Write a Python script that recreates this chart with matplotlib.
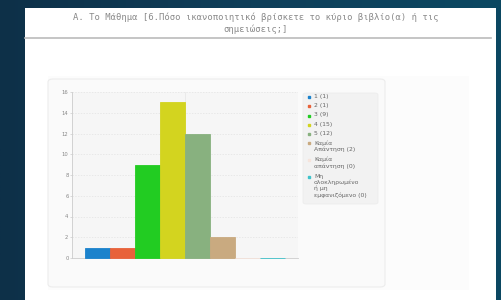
import numpy as np
import matplotlib
matplotlib.use("Agg")
import matplotlib.pyplot as plt
from matplotlib.patches import Rectangle, FancyBboxPatch
from matplotlib.lines import Line2D

title = ("A. Το Μάθημα [6.Πόσο ικανοποιητικό βρίσκετε το κύριο βιβλίο(α) ή τις\n"
         "σημειώσεις;]")
labels = ["1 (1)", "2 (1)", "3 (9)", "4 (15)", "5 (12)",
          "Καμία\nΑπάντηση (2)", "Καμία\nαπάντηση (0)",
          "Μη\nολοκληρωμένο\nή μη\nεμφανιζόμενο (0)"]
values = [1, 1, 9, 15, 12, 2, 0, 0]
colors = ["#1b82cc", "#e8623a", "#22cc22", "#d3d41f", "#88b17f",
          "#c9aa80", "#f6e4dc", "#3fc3cb"]
yticks = [0, 2, 4, 6, 8, 10, 12, 14, 16]

W, H = 502, 300
fig = plt.figure(figsize=(W / 100, H / 100), dpi=100)

# dark gradient background
bg = fig.add_axes([0, 0, 1, 1], zorder=-10)
grad = np.linspace(0, 1, 256)[None, :]
bg.imshow(grad, cmap=matplotlib.colors.LinearSegmentedColormap.from_list(
    "bg", ["#0d3048", "#0f3f5a", "#0b4862"]), aspect="auto", extent=[0, 1, 0, 1])
bg.set_axis_off()


def fx(x):
    return x / W


def fy(y):
    return 1 - y / H


# white panel
fig.patches.append(Rectangle((fx(25), fy(300)), fx(471), 292 / H,
                             transform=fig.transFigure, fc="white", ec="none", zorder=-5))
# title + rule
fig.text(fx(256), fy(23), title, ha="center", va="center", family="DejaVu Sans Mono",
         fontsize=6.4, color="#8a8a8a", linespacing=1.35)
fig.add_artist(Line2D([fx(25), fx(491)], [fy(38), fy(38)], transform=fig.transFigure,
                      color="#bbbbbb", lw=1.2))
# light area and chart card
fig.patches.append(Rectangle((fx(48), fy(290)), fx(421), 214 / H,
                             transform=fig.transFigure, fc="#fcfcfc", ec="none", zorder=-4))
fig.patches.append(FancyBboxPatch((fx(48), fy(287)), fx(337), 208 / H,
                                  boxstyle="round,pad=0,rounding_size=0.01",
                                  transform=fig.transFigure, fc="#fafafa", ec="#ececec",
                                  lw=0.8, zorder=-3))

ax = fig.add_axes([fx(72), fy(258), fx(226), 166 / H])
ax.set_facecolor("#f6f6f6")
x = np.arange(len(values))
bars = ax.bar(x, values, width=1.0, color=colors, edgecolor=colors, lw=0.6, zorder=3)
for b in bars:
    b.set_clip_on(False)
ax.set_xlim(-1.02, 8.02)
ax.set_ylim(0, 16)
ax.set_yticks(yticks)
ax.set_yticklabels([str(v) for v in yticks], fontsize=3.8, color="#888888")
ax.set_xticks([])
ax.grid(axis="y", color="#e2e2e2", ls=(0, (2, 2)), lw=0.5, zorder=0)
ax.axvline(3.5, color="#e6e6e6", lw=0.5, zorder=0)
ax.tick_params(axis="y", length=1.5, width=0.5, color="#cccccc", pad=1)
for s in ["top", "right"]:
    ax.spines[s].set_visible(False)
for s in ["left", "bottom"]:
    ax.spines[s].set_color("#cccccc")
    ax.spines[s].set_linewidth(0.6)

# legend box, markers aligned with first text line
fig.patches.append(FancyBboxPatch((fx(303), fy(204)), fx(75), 111 / H,
                                  boxstyle="round,pad=0,rounding_size=0.006",
                                  transform=fig.transFigure, fc="#f2f2f2", ec="#ebebeb",
                                  lw=0.5, zorder=1))
line_h = 7.6
y = 94
for lab, c in zip(labels, colors):
    fig.add_artist(Line2D([fx(309)], [fy(y + 3.2)], transform=fig.transFigure,
                          marker="s", ls="none", color=c, markersize=2.0, zorder=2))
    fig.text(fx(314), fy(y), lab, ha="left", va="top", fontsize=4.4, color="#666666",
             linespacing=1.2, zorder=2)
    y += line_h * lab.count("\n") + 9.2

fig.savefig("out.png", dpi=100)
